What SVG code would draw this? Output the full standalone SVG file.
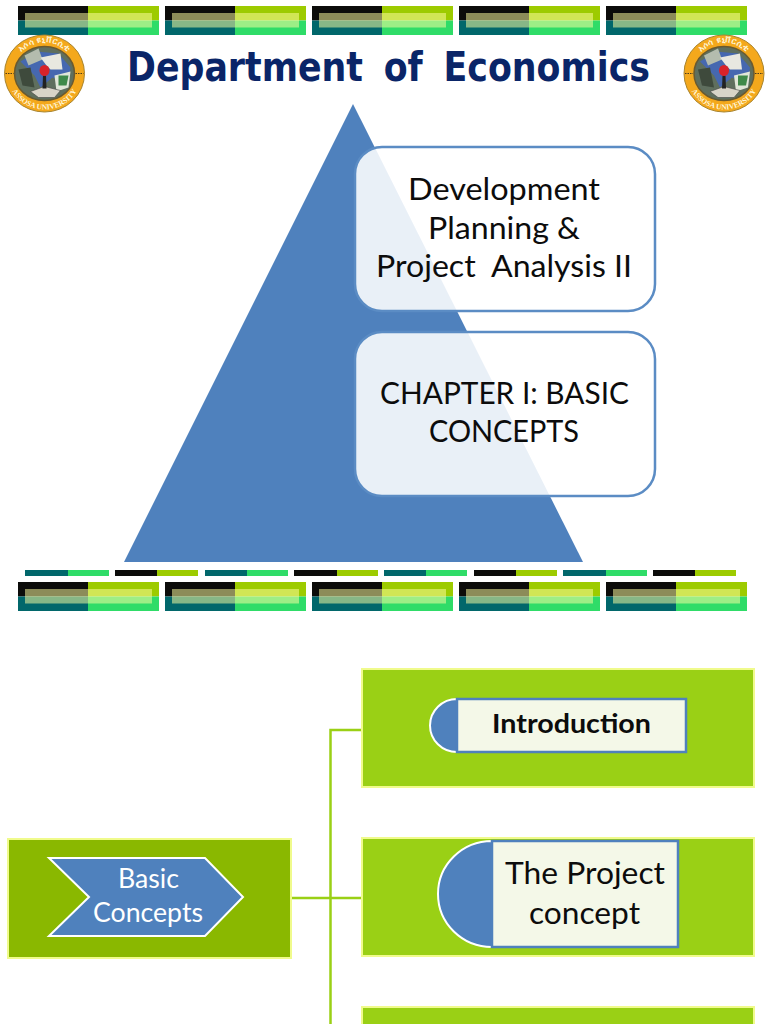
<svg xmlns="http://www.w3.org/2000/svg" xmlns:xlink="http://www.w3.org/1999/xlink" width="768" height="1024" viewBox="0 0 768 1024">
<style>
text{font-family:"Lato","Open Sans","Liberation Sans",sans-serif;text-anchor:middle;fill:#0c0c0c}
.big{font-size:31px}
.mid{font-size:31px}
.grn{fill:#9ad015;stroke:#f0fb8c;stroke-width:2}
.tag{fill:#f4f8e8;stroke:#4f81bd;stroke-width:2.5}
.bl{fill:#4f81bd;stroke:#fff;stroke-width:2}
.card{fill:#fff;fill-opacity:.88;stroke:#5b8cc4;stroke-width:2.500}
.conn{stroke:#9ad015;stroke-width:2.500;fill:none}
.lt{font-family:"Liberation Serif",serif;font-size:7.500px;font-weight:700;fill:#fff6d8}
.la{font-family:"DejaVu Sans","Noto Sans",sans-serif;font-size:8.500px;font-weight:700;fill:#fff6d8}
</style>
<defs>
<g id="strip">
<rect x="0" y="0" width="70" height="14.500" fill="#0c0c0a"/>
<rect x="70" y="0" width="71" height="14.500" fill="#9dcb00"/>
<rect x="0" y="14.500" width="70" height="14.500" fill="#01676b"/>
<rect x="70" y="14.500" width="71" height="14.500" fill="#2fdc68"/>
<rect x="7" y="7" width="127" height="14.500" fill="#ffffa0" fill-opacity=".53"/>
</g>
<path id="arcTop" d="M-32 0A32 31 0 0 1 32 0"/>
<path id="arcBot" d="M-37 0A37 36 0 0 0 37 0"/>
<g id="logo">
<ellipse cx="0" cy="0" rx="40" ry="38.500" fill="#f4a81c" stroke="#a8842e" stroke-width="1"/>
<ellipse cx="0" cy="0" rx="30" ry="27" fill="#5f6f5e" stroke="#6a5a30" stroke-width="1.500"/>
<path d="M-24 -12L-8 -22L14 -20L26 -6L24 10L8 4L-4 14L-10 2Z" fill="#4668b0"/>
<path d="M-20 -18L-6 -25L-2 -14L-16 -8Z" fill="#b4bcae"/>
<path d="M-4 -16L16 -20L18 -4L6 -4L2 -8Z" fill="#e8e8e0"/>
<path d="M10 2L26 -2L24 14L12 18Z" fill="#e0e6d8"/>
<path d="M14 2L24 2L22 12L14 12Z" fill="#3f8a4a"/>
<path d="M-26 -4L-14 -6L-10 14L-22 12Z" fill="#3e4a3c"/>
<path d="M-14 18L0 13L16 17L10 24L-6 24Z" fill="#d8d4c8" stroke="#444" stroke-width=".6"/>
<path d="M-1.500 2L1.500 2L2 15L-2 15Z" fill="#222"/>
<ellipse cx="0" cy="-3" rx="5" ry="5.500" fill="#d8232a"/>
<path d="M-39 0H-31M31 0H39" stroke="#4a3a1a" stroke-width="1.200" stroke-dasharray="1.500 1"/>
<text class="la"><textPath xlink:href="#arcTop" href="#arcTop" startOffset="50%">አሶሳ ዩኒቨርሲቲ</textPath></text>
<text class="lt"><textPath xlink:href="#arcBot" href="#arcBot" startOffset="50%">ASSOSA UNIVERSITY</textPath></text>
</g>
</defs>
<rect width="768" height="1024" fill="#fff"/>

<g id="header-strips">
<use xlink:href="#strip" href="#strip" x="18" y="6"/>
<use xlink:href="#strip" href="#strip" x="165" y="6"/>
<use xlink:href="#strip" href="#strip" x="312" y="6"/>
<use xlink:href="#strip" href="#strip" x="459" y="6"/>
<use xlink:href="#strip" href="#strip" x="606" y="6"/>
</g>
<g id="logos">
<use xlink:href="#logo" href="#logo" x="44.500" y="73.500"/>
<use xlink:href="#logo" href="#logo" x="724" y="73.500"/>
</g>
<text id="title" x="388.500" y="81" style="font-family:'DejaVu Sans','Open Sans',sans-serif;fill:#0a2568;font-weight:700;font-size:40px;word-spacing:10px" textLength="523" lengthAdjust="spacingAndGlyphs">Department of Economics</text>

<g id="pyramid"><polygon points="353,104 583,562 124,562" fill="#4f81bd"/></g>
<g id="card-title">
<rect class="card" x="355" y="147" width="300" height="164" rx="27"/>
<text class="big" x="504" y="200" textLength="192" lengthAdjust="spacingAndGlyphs">Development</text>
<text class="big" x="504" y="239" textLength="152" lengthAdjust="spacingAndGlyphs">Planning &amp;</text>
<text class="big" x="504" y="277" xml:space="preserve" textLength="256" lengthAdjust="spacingAndGlyphs">Project  Analysis II</text>
</g>
<g id="card-chapter">
<rect class="card" x="355" y="332" width="300" height="164" rx="27"/>
<text class="big" x="504.500" y="404" textLength="249" lengthAdjust="spacingAndGlyphs">CHAPTER I: BASIC</text>
<text class="big" x="504" y="442" textLength="150" lengthAdjust="spacingAndGlyphs">CONCEPTS</text>
</g>

<g id="thin-strip">
<rect x="25" y="570" width="43" height="6" fill="#01676b"/><rect x="68" y="570" width="41" height="6" fill="#2fdc68"/>
<rect x="115" y="570" width="42" height="6" fill="#0c0c0a"/><rect x="157" y="570" width="41" height="6" fill="#9dcb00"/>
<rect x="205" y="570" width="42" height="6" fill="#01676b"/><rect x="247" y="570" width="41" height="6" fill="#2fdc68"/>
<rect x="294" y="570" width="43" height="6" fill="#0c0c0a"/><rect x="337" y="570" width="41" height="6" fill="#9dcb00"/>
<rect x="384" y="570" width="42" height="6" fill="#01676b"/><rect x="426" y="570" width="41" height="6" fill="#2fdc68"/>
<rect x="474" y="570" width="42" height="6" fill="#0c0c0a"/><rect x="516" y="570" width="41" height="6" fill="#9dcb00"/>
<rect x="563" y="570" width="43" height="6" fill="#01676b"/><rect x="606" y="570" width="41" height="6" fill="#2fdc68"/>
<rect x="653" y="570" width="42" height="6" fill="#0c0c0a"/><rect x="695" y="570" width="41" height="6" fill="#9dcb00"/>
</g>
<g id="footer-strips">
<use xlink:href="#strip" href="#strip" x="18" y="582"/>
<use xlink:href="#strip" href="#strip" x="165" y="582"/>
<use xlink:href="#strip" href="#strip" x="312" y="582"/>
<use xlink:href="#strip" href="#strip" x="459" y="582"/>
<use xlink:href="#strip" href="#strip" x="606" y="582"/>
</g>

<g id="connectors" class="conn">
<path d="M330.500 1024V730H361"/>
<path d="M292 898H361"/>
</g>

<g id="node-basic">
<rect x="8" y="839" width="283" height="119" fill="#8ab800" stroke="#f0fb8c" stroke-width="2"/>
<polygon class="bl" points="49,858 205,858 243,897 205,936 49,936 89,897"/>
<text x="148.500" y="888" style="fill:#fff;font-size:26px" textLength="61" lengthAdjust="spacingAndGlyphs">Basic</text>
<text x="148" y="922" style="fill:#fff;font-size:26px" textLength="110" lengthAdjust="spacingAndGlyphs">Concepts</text>
</g>
<g id="node-introduction">
<rect class="grn" x="362" y="669" width="392" height="118"/>
<path class="bl" d="M457 699A27 26.500 0 0 0 457 752Z"/>
<rect class="tag" x="457" y="699" width="229" height="53"/>
<text x="571.500" y="733" style="font-weight:700;font-size:27px" textLength="159" lengthAdjust="spacingAndGlyphs">Introduction</text>
</g>
<g id="node-project">
<rect class="grn" x="362" y="838" width="392" height="118"/>
<path class="bl" d="M492 841A54 53 0 0 0 492 947Z"/>
<rect class="tag" x="492" y="841" width="186" height="106"/>
<text class="mid" x="585" y="884" textLength="160" lengthAdjust="spacingAndGlyphs">The Project</text>
<text class="mid" x="584.500" y="924" textLength="111" lengthAdjust="spacingAndGlyphs">concept</text>
</g>
<g id="node-third">
<rect class="grn" x="362" y="1007" width="392" height="30"/>
</g>
</svg>
